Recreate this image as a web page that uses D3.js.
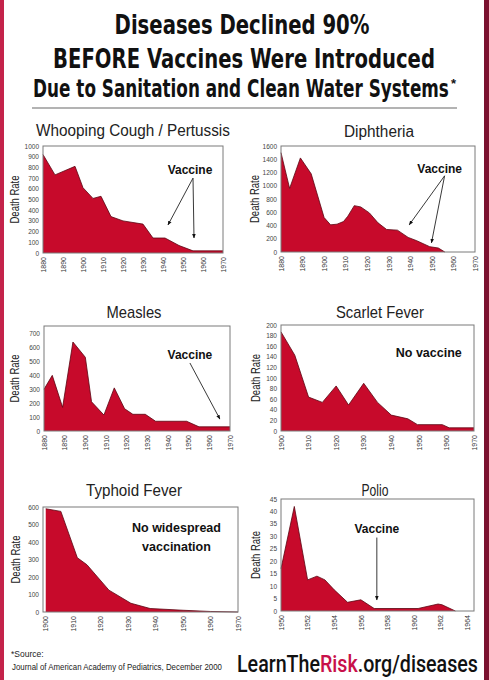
<!DOCTYPE html>
<html><head><meta charset="utf-8">
<script src="https://cdn.jsdelivr.net/npm/d3@7"></script>
<style>html,body{margin:0;padding:0;background:#fff}svg{display:block}</style>
</head><body>
<script>
// ---------- DATA ----------
const whoopingYears = [1880,1886,1896,1900,1905,1909,1914,1920,1930,1935,1941,1948,1955,1970];
const whoopingRates = [920,730,810,610,510,530,340,300,270,140,140,70,20,20];
const whoopingTicksX = [1880,1890,1900,1910,1920,1930,1940,1950,1960,1970];
const whoopingTicksY = [0,100,200,300,400,500,600,700,800,900,1000];

const diphYears = [1880,1884,1889,1894,1900,1903,1906,1909,1911,1914,1917,1921,1925,1929,1934,1939,1943,1949,1953,1956];
const diphRates = [1500,960,1420,1180,520,410,420,460,540,700,680,590,440,340,330,220,170,80,60,0];
const diphTicksX = [1880,1890,1900,1910,1920,1930,1940,1950,1960,1970];
const diphTicksY = [0,200,400,600,800,1000,1200,1400,1600];

const measlesYears = [1880,1884,1889,1894,1900,1903,1909,1914,1919,1923,1929,1934,1949,1955,1970];
const measlesRates = [300,400,170,640,530,210,115,310,160,120,120,70,70,30,30];
const measlesTicksX = [1880,1890,1900,1910,1920,1930,1940,1950,1960,1970];
const measlesTicksY = [0,100,200,300,400,500,600,700];

const scarletYears = [1900,1905,1910,1915,1920,1924.5,1930,1935,1940,1946,1949.5,1958.5,1961,1970];
const scarletRates = [187,143,64,54,85,49,90,54,30,23,12,12,6,6];
const scarletTicksX = [1900,1910,1920,1930,1940,1950,1960,1970];
const scarletTicksY = [0,20,40,60,80,100,120,140,160,180,200];

const typhoidYears = [1900,1905.5,1911.5,1915,1923,1931,1938,1950,1960,1970];
const typhoidRates = [590,575,310,270,125,50,20,10,3,0];
const typhoidTicksX = [1900,1910,1920,1930,1940,1950,1960,1970];
const typhoidTicksY = [0,100,200,300,400,500,600];

const polioYears = [1950,1951,1952,1952.7,1953.3,1954,1955,1956,1957,1960.3,1961.8,1962.1,1963.1];
const polioRates = [17,42,12.5,14,12.5,8.5,3.5,4.5,1,1,2.8,2.5,0];
const polioTicksX = [1950,1952,1954,1956,1958,1960,1962,1964];
const polioTicksY = [0,5,10,15,20,25,30,35,40,45];

const panelTitles = ["Whooping Cough / Pertussis","Diphtheria","Measles","Scarlet Fever","Typhoid Fever","Polio"];
const titleLines = ["Diseases Declined 90%","BEFORE Vaccines Were Introduced","Due to Sanitation and Clean Water Systems"];

// ---------- LAYOUT ----------
const W = 489, H = 680;
const RED = "#c70a2b";
const svg = d3.select("body").append("svg").attr("width", W).attr("height", H);
svg.append("rect").attr("width", W).attr("height", H).attr("fill", "#fff");

const defs = svg.append("defs");
defs.append("marker").attr("id","ah").attr("viewBox","0 0 10 10").attr("refX",9).attr("refY",5)
  .attr("markerWidth",5).attr("markerHeight",5).attr("orient","auto-start-reverse")
  .append("path").attr("d","M0,1L10,5L0,9z").attr("fill","#111");

// horizontally scale a text so it spans width w, anchored at (x,y)
function fit(sel, x, y, w){
  sel.attr("x",0).attr("y",0);
  const L = sel.node().getComputedTextLength();
  const s = L > 0 ? w / L : 1;
  sel.attr("transform",`translate(${x},${y}) scale(${s},1)`);
  return sel;
}

// frame
svg.append("rect").attr("x",0).attr("y",0).attr("width",4).attr("height",H).attr("fill","#c4234a");
svg.append("rect").attr("x",484).attr("y",0).attr("width",5).attr("height",H).attr("fill","#7b1230");

// title
const condensed = "'Liberation Sans Narrow','DejaVu Sans Condensed','Arial Narrow',sans-serif";
const tspec = [{cx:242,y:34,w:255,fs:26},{cx:244,y:68,w:382,fs:26},{cx:241,y:97,w:416,fs:25}];
titleLines.forEach((t,i)=>{
  const s = svg.append("text").attr("text-anchor","middle")
    .attr("font-family",condensed).attr("font-weight","bold").attr("font-size",tspec[i].fs)
    .attr("fill","#111").text(t);
  fit(s, tspec[i].cx, tspec[i].y, tspec[i].w);
});
svg.append("text").attr("x",451).attr("y",88).attr("font-family","Arial, sans-serif").attr("font-weight","bold")
  .attr("font-size",13).attr("fill","#111").text("*");
svg.append("line").attr("x1",32).attr("x2",457).attr("y1",108).attr("y2",108).attr("stroke","#9a9a9a").attr("stroke-width",1.5);

const panels = [
  {years:whoopingYears, rates:whoopingRates, tx:whoopingTicksX, ty:whoopingTicksY, xd:[1880,1970], yd:[0,1000],
   L:43,R:223,T:146,B:253, tX:133,tY:136,tW:194, drX:15},
  {years:diphYears, rates:diphRates, tx:diphTicksX, ty:diphTicksY, xd:[1880,1970], yd:[0,1600],
   L:281,R:475,T:146,B:252, tX:379,tY:137,tW:70, drX:255},
  {years:measlesYears, rates:measlesRates, tx:measlesTicksX, ty:measlesTicksY, xd:[1880,1970], yd:[0,755],
   L:44,R:230,T:326,B:431, tX:134,tY:318,tW:55, drX:15},
  {years:scarletYears, rates:scarletRates, tx:scarletTicksX, ty:scarletTicksY, xd:[1900,1970], yd:[0,200],
   L:281,R:474,T:325,B:431, tX:380,tY:318,tW:88, drX:256},
  {years:typhoidYears, rates:typhoidRates, tx:typhoidTicksX, ty:typhoidTicksY, xd:[1899,1970], yd:[0,600],
   L:43,R:238,T:507,B:612, tX:134,tY:496,tW:96, drX:16},
  {years:polioYears, rates:polioRates, tx:polioTicksX, ty:polioTicksY, xd:[1950,1964.5], yd:[0,45],
   L:281,R:474,T:499,B:611, tX:375,tY:496,tW:27, drX:256}
];

panels.forEach((p,i)=>{
  const g = svg.append("g");
  const x = d3.scaleLinear().domain(p.xd).range([p.L,p.R]);
  const y = d3.scaleLinear().domain(p.yd).range([p.B,p.T]);
  p.x = x; p.y = y; p.g = g;
  const pts = p.years.map((yr,k)=>[yr,p.rates[k]]);
  g.append("path").datum(pts)
    .attr("d", d3.area().x(d=>x(d[0])).y0(y(0)).y1(d=>y(d[1])))
    .attr("fill", RED);
  g.append("path").datum(pts)
    .attr("d", d3.line().x(d=>x(d[0])).y(d=>y(d[1])))
    .attr("fill","none").attr("stroke","#5a0512").attr("stroke-width",0.8);
  g.append("rect").attr("x",p.L).attr("y",p.T).attr("width",p.R-p.L).attr("height",p.B-p.T)
    .attr("fill","none").attr("stroke","#7a7a7a").attr("stroke-width",1);
  const ya = g.append("g").attr("transform",`translate(${p.L},0)`)
    .call(d3.axisLeft(y).tickValues(p.ty).tickSize(0).tickPadding(4).tickFormat(d3.format("d")));
  ya.select(".domain").remove();
  ya.selectAll("text").attr("font-family","Arial, sans-serif").attr("font-size",6.5).attr("fill","#444");
  const xa = g.append("g").attr("transform",`translate(0,${p.B})`)
    .call(d3.axisBottom(x).tickValues(p.tx).tickSize(0).tickFormat(d3.format("d")));
  xa.select(".domain").remove();
  xa.selectAll("text").attr("font-family","Arial, sans-serif").attr("font-size",7).attr("fill","#333")
    .attr("text-anchor","end").attr("dy","0.32em").attr("transform","translate(0,4) rotate(-90)")
    .attr("x",0).attr("y",0);
  const t = g.append("text").attr("text-anchor","middle")
    .attr("font-family","'Liberation Sans', Arial, sans-serif").attr("font-size",16).attr("fill","#222")
    .text(panelTitles[i]);
  fit(t, p.tX, p.tY, p.tW);
  const cy = (p.T+p.B)/2;
  g.append("text").attr("transform",`translate(${p.drX},${cy}) rotate(-90)`).attr("text-anchor","middle")
    .attr("dy","0.35em").attr("font-family","'Liberation Sans', Arial, sans-serif").attr("font-size",12)
    .attr("fill","#222").attr("textLength",48).attr("lengthAdjust","spacingAndGlyphs").text("Death Rate");
});

// annotations (in data coordinates)
function note(p, yr, val, txt, fs){
  p.g.append("text").attr("x",p.x(yr)).attr("y",p.y(val)).attr("text-anchor","middle")
    .attr("font-family","'Liberation Sans', Arial, sans-serif").attr("font-weight","bold")
    .attr("font-size",fs||12).attr("fill","#111").text(txt);
}
function arrow(p, y0, v0, y1, v1){
  p.g.append("line").attr("x1",p.x(y0)).attr("y1",p.y(v0)).attr("x2",p.x(y1)).attr("y2",p.y(v1))
    .attr("stroke","#222").attr("stroke-width",0.9).attr("marker-end","url(#ah)");
}
const [pW,pD,pM,pS,pT,pP] = panels;
note(pW,1953.5,740,"Vaccine");
arrow(pW,1955,700,1942.5,262); arrow(pW,1955,700,1955.5,140);
note(pD,1953.6,1190,"Vaccine");
arrow(pD,1955.9,1150,1939.5,411); arrow(pD,1955.9,1150,1949.8,137);
note(pM,1950.6,520,"Vaccine");
arrow(pM,1950.6,489,1965.1,86);
note(pS,1953.6,140,"No vaccine",12.5);
note(pT,1947.6,460,"No widespread",12.5);
note(pT,1947.6,350,"vaccination",12.5);
note(pP,1957.2,31.5,"Vaccine");
arrow(pP,1957.2,29.5,1957.2,4.4);

// footer
svg.append("text").attr("x",11).attr("y",657).attr("font-family","'Liberation Sans', Arial, sans-serif")
  .attr("font-size",8.5).attr("fill","#222").text("*Source:");
const src = svg.append("text").attr("font-family","'Liberation Sans', Arial, sans-serif")
  .attr("font-size",8.5).attr("fill","#222")
  .text("Journal of American Academy of Pediatrics, December 2000");
fit(src, 12, 670, 210);
const ft = svg.append("text").attr("font-family","Roboto, 'Liberation Sans', Arial, sans-serif")
  .attr("font-weight",500).attr("font-size",24).attr("fill","#111");
ft.append("tspan").text("LearnThe");
ft.append("tspan").attr("fill","#c8104a").text("Risk");
ft.append("tspan").text(".org/diseases");
fit(ft, 237, 672, 241);
</script>
</body></html>
